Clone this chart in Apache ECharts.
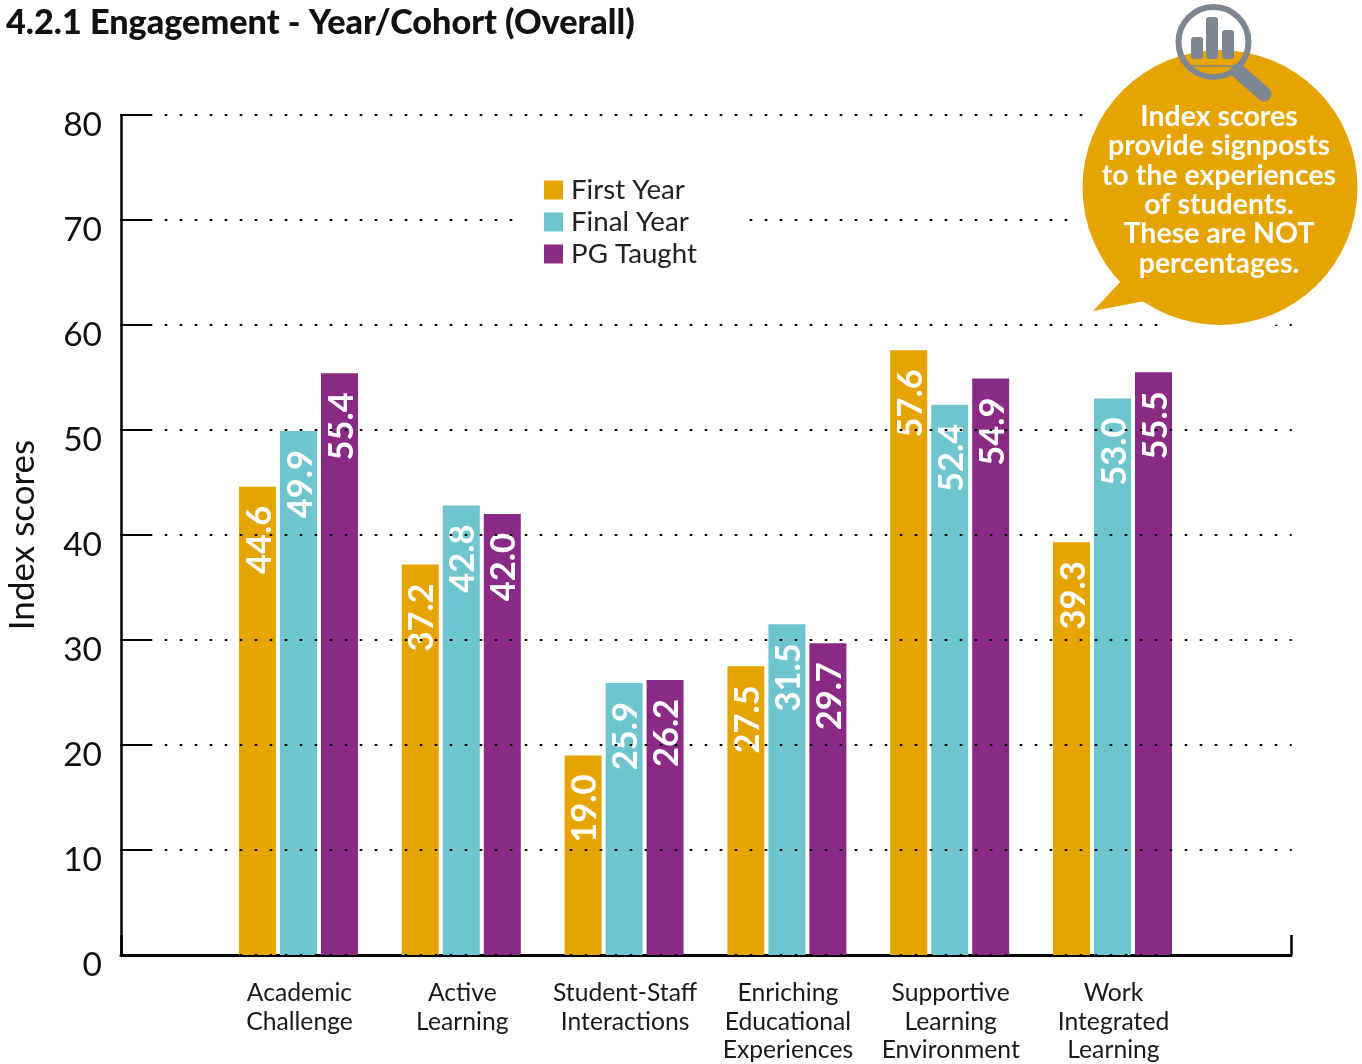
<!DOCTYPE html>
<html>
<head>
<meta charset="utf-8">
<title>Engagement - Year/Cohort</title>
<script src="https://cdn.jsdelivr.net/npm/echarts@6/dist/echarts.min.js"></script>
<style>
  html, body { margin: 0; padding: 0; background: #fff; }
  #el { width: 1362px; height: 1064px; }
</style>
</head>
<body>
<div id="el"></div>
<script>
const categories = [
  "Academic\nChallenge",
  "Active\nLearning",
  "Student-Staff\nInteractions",
  "Enriching\nEducational\nExperiences",
  "Supportive\nLearning\nEnvironment",
  "Work\nIntegrated\nLearning"
];
const firstYear = [44.6, 37.2, 19.0, 27.5, 57.6, 39.3];
const finalYear = [49.9, 42.8, 25.9, 31.5, 52.4, 53.0];
const pgTaught = [55.4, 42.0, 26.2, 29.7, 54.9, 55.5];
const bubbleLines = [
  "Index scores",
  "provide signposts",
  "to the experiences",
  "of students.",
  "These are NOT",
  "percentages."
];

const font = "Lato";
const gold = "#e5a400";
const teal = "#6fc5cd";
const purple = "#8a2a85";
const gray = "#7d8691";

function barSeries(name, values, color) {
  return {
    name: name,
    type: "bar",
    xAxisIndex: 1,
    yAxisIndex: 1,
    barWidth: 37,
    barGap: "10.8%",
    itemStyle: { color: color },
    label: {
      show: true,
      position: "insideTop",
      distance: 19,
      offset: [0, 2],
      rotate: 90,
      align: "right",
      verticalAlign: "middle",
      color: "#fff",
      fontFamily: font,
      fontWeight: 700,
      fontSize: 34.5,
      formatter: p => p.value.toFixed(1)
    },
    data: values
  };
}

// little bar icon inside the magnifier
function iconBar(x, top) {
  return {
    type: "rect",
    z: 12,
    shape: { x: x, y: top, width: 12, height: 59 - top, r: 3 },
    style: { fill: gray }
  };
}

const chart = echarts.init(document.getElementById("el"));
chart.setOption({
  animation: false,
  backgroundColor: "#fff",
  title: {
    text: "4.2.1 Engagement - Year/Cohort (Overall)",
    left: 6,
    top: 6,
    padding: 0,
    textStyle: { fontFamily: font, fontWeight: 900, fontSize: 34.2, color: "#111" }
  },
  legend: {
    left: 515,
    top: 168,
    orient: "vertical",
    padding: [8, 48, 8, 29],
    backgroundColor: "#fff",
    itemWidth: 19,
    itemHeight: 19,
    itemGap: 4,
    icon: "rect",
    textStyle: { fontFamily: font, fontSize: 27.7, color: "#222", padding: [0, 0, 0, 3] },
    data: ["First Year", "Final Year", "PG Taught"]
  },
  grid: [
    { left: 121, top: 115, width: 1170, height: 840, outerBoundsMode: "none" },
    { left: 217.1, top: 115, width: 976.8, height: 840, outerBoundsMode: "none" }
  ],
  xAxis: [
    {
      gridIndex: 0,
      type: "value",
      min: 0,
      max: 1,
      interval: 1,
      axisLabel: { show: false },
      splitLine: { show: false },
      axisLine: { onZero: false, lineStyle: { color: "#000", width: 3 } },
      axisTick: { show: true, inside: true, length: 20, lineStyle: { color: "#000", width: 2.5 } }
    },
    {
      gridIndex: 1,
      type: "category",
      data: categories,
      axisLine: { show: false },
      axisTick: { show: false },
      axisLabel: {
        margin: 24,
        padding: [0, 0, 0, 2],
        verticalAlign: "top",
        fontFamily: font,
        fontSize: 24.7,
        lineHeight: 28.4,
        color: "#1a1a1a",
        interval: 0
      }
    }
  ],
  yAxis: [
    {
      gridIndex: 0,
      type: "value",
      z: 3,
      min: 0,
      max: 80,
      interval: 10,
      name: "Index scores",
      nameLocation: "middle",
      nameGap: 81,
      nameRotate: 90,
      nameTextStyle: { fontFamily: font, fontSize: 35, color: "#111" },
      axisLine: { show: true, lineStyle: { color: "#000", width: 2.5 } },
      axisTick: { show: true, inside: true, length: 31, lineStyle: { color: "#000", width: 2 } },
      axisLabel: {
        margin: 19,
        verticalAlign: "top",
        lineHeight: 21,
        fontFamily: font,
        fontSize: 33.5,
        color: "#111"
      },
      splitLine: {
        show: true,
        lineStyle: { color: "#000", width: 2, type: [1, 14], dashOffset: 0.5, cap: "round" }
      }
    },
    { gridIndex: 1, type: "value", min: 0, max: 80, interval: 10, show: false, splitLine: { show: false } }
  ],
  series: [
    barSeries("First Year", firstYear, gold),
    barSeries("Final Year", finalYear, teal),
    barSeries("PG Taught", pgTaught, purple)
  ],
  graphic: {
    elements: [
      // white halo that hides the dotted lines around the bubble
      { type: "circle", z: 10, shape: { cx: 1218, cy: 187.5, r: 149 }, style: { fill: "#fff" } },
      { type: "circle", z: 11, shape: { cx: 1220, cy: 187.5, r: 137.5 }, style: { fill: gold } },
      { type: "polygon", z: 11, shape: { points: [[1122, 280], [1093, 311], [1150, 300]] }, style: { fill: gold } },
      { type: "line", z: 12, shape: { x1: 1238, y1: 71, x2: 1264, y2: 94 }, style: { stroke: gray, lineWidth: 15, lineCap: "round" } },
      { type: "circle", z: 12, shape: { cx: 1213.5, cy: 42, r: 35 }, style: { fill: "rgba(255,255,255,0)", stroke: gray, lineWidth: 6 } },
      iconBar(1191, 37),
      iconBar(1206, 17),
      iconBar(1222, 30),
      { type: "line", z: 12, shape: { x1: 1191, y1: 66, x2: 1236, y2: 66 }, style: { stroke: gray, lineWidth: 1.5 } },
      {
        type: "text",
        z: 13,
        style: {
          x: 1219,
          y: 102,
          text: bubbleLines.join("\n"),
          align: "center",
          fill: "#fff",
          fontFamily: font,
          fontWeight: 700,
          fontSize: 28.5,
          lineHeight: 29.4
        }
      }
    ]
  }
});
</script>
</body>
</html>
